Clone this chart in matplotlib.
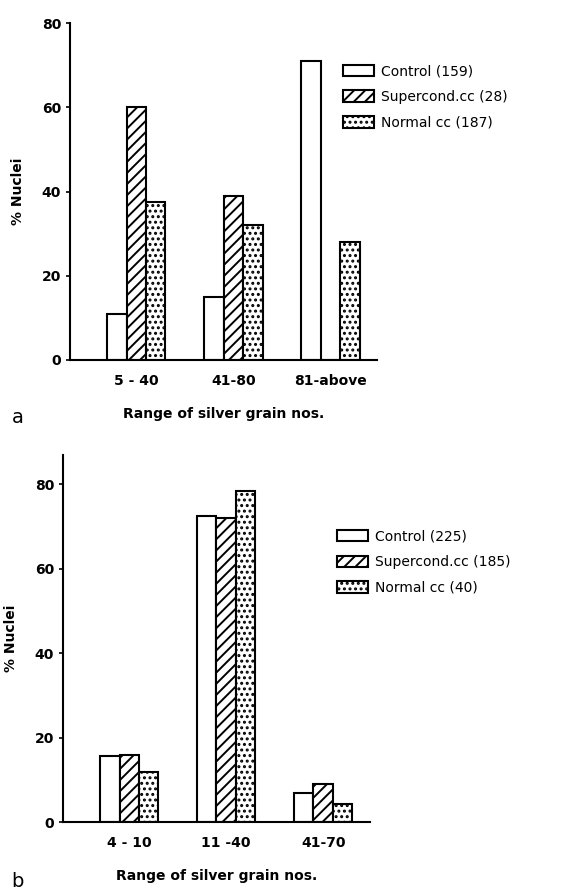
import numpy as np
import matplotlib
matplotlib.use("Agg")
import matplotlib.pyplot as plt

plt.rcParams['font.family'] = ['DejaVu Sans']
plt.rcParams['hatch.linewidth'] = 1.4

# panel a
cats_a = ['5 - 40', '41-80', '81-above']
control_a = [11, 15, 71]
supercond_a = [60, 39, 0]
normal_a = [37.5, 32, 28]
labels_a = ['Control (159)', 'Supercond.cc (28)', 'Normal cc (187)']

# panel b
cats_b = ['4 - 10', '11 -40', '41-70']
control_b = [15.7, 72.6, 6.9]
supercond_b = [16, 72, 9.1]
normal_b = [11.9, 78.4, 4.3]
labels_b = ['Control (225)', 'Supercond.cc (185)', 'Normal cc (40)']

fig = plt.figure(figsize=(5.75, 8.91), dpi=100)

def panel(ax, cats, c, s, n, labels, ytop, leg_xy):
    x = np.arange(len(cats))
    w = 0.2
    b1 = ax.bar(x - w, c, w, color='white', edgecolor='black', linewidth=1.5)
    b2 = ax.bar(x, s, w, color='white', edgecolor='black', linewidth=1.5, hatch='///')
    b3 = ax.bar(x + w, n, w, color='white', edgecolor='black', linewidth=1.5, hatch='...')
    ax.set_xlim(-0.68, 2.48)
    ax.set_ylim(0, ytop)
    ax.set_yticks([0, 20, 40, 60, 80])
    ax.set_xticks(x)
    ax.set_xticklabels(cats, fontsize=10, fontweight='bold')
    ax.tick_params(axis='x', length=0, pad=10)
    ax.tick_params(axis='y', labelsize=10, width=1.2, length=3)
    for t in ax.get_yticklabels():
        t.set_fontweight('bold')
    ax.spines['top'].set_visible(False)
    ax.spines['right'].set_visible(False)
    ax.spines['left'].set_linewidth(1.5)
    ax.spines['bottom'].set_linewidth(1.5)
    ax.set_ylabel('% Nuclei', fontsize=10, fontweight='bold', labelpad=12)
    ax.set_xlabel('Range of silver grain nos.', fontsize=10, fontweight='bold', labelpad=14)
    fig.legend([b1, b2, b3], labels, loc='upper left', bbox_to_anchor=leg_xy,
               frameon=False, fontsize=10, handlelength=2.2, handleheight=0.9,
               labelspacing=0.85, handletextpad=0.5)

ax1 = fig.add_axes([0.122, 0.596, 0.534, 0.378])
panel(ax1, cats_a, control_a, supercond_a, normal_a, labels_a, 80, (0.575, 0.942))
fig.text(0.02, 0.525, 'a', fontsize=14)

ax2 = fig.add_axes([0.110, 0.0774, 0.533, 0.412])
panel(ax2, cats_b, control_b, supercond_b, normal_b, labels_b, 87, (0.565, 0.42))
fig.text(0.02, 0.005, 'b', fontsize=14)

fig.savefig('out.png', dpi=100)
